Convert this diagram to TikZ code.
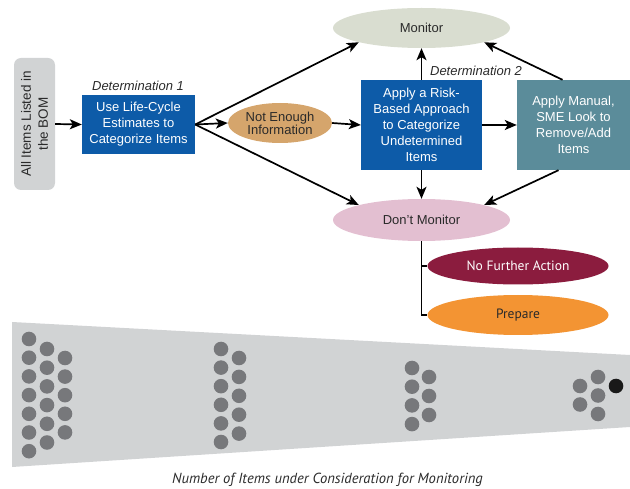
\documentclass[tikz,border=0pt]{standalone}
\usepackage{fontspec}
\setmainfont{Liberation Sans}
\newfontfamily\condfont{PT Sans}
\usetikzlibrary{shapes.geometric,arrows.meta,calc}
\definecolor{bomgray}{HTML}{D1D3D4}
\definecolor{boxblue}{HTML}{0D5BA8}
\definecolor{tealbox}{HTML}{5B8C9A}
\definecolor{tan}{HTML}{D5A56C}
\definecolor{mongreen}{HTML}{D9DDD0}
\definecolor{dontpink}{HTML}{E3BFD1}
\definecolor{maroon}{HTML}{8B1C3E}
\definecolor{orng}{HTML}{F39433}
\definecolor{funnel}{HTML}{D1D3D4}
\definecolor{dotc}{HTML}{77787B}
\definecolor{txtdark}{HTML}{2A2A2A}
\tikzset{
  boxtxt/.style={font=\fontsize{13}{16}\selectfont, align=center, inner sep=0pt, text=white},
  bluebox/.style={boxtxt, rectangle, fill=boxblue},
  ell/.style={ellipse, inner sep=0pt, align=center, font=\fontsize{13}{15}\selectfont},
  conn/.style={draw=black, line width=1.7pt, -{Stealth[length=12pt,width=10pt,inset=3pt]}},
  plain/.style={draw=black, line width=1.4pt},
  detlabel/.style={font=\fontsize{13}{15}\selectfont\itshape, text=txtdark, inner sep=0pt},
  dot/.style={fill=dotc}
}
\begin{document}
\begin{tikzpicture}[x=1pt,y=-1pt]
\useasboundingbox (0,0) rectangle (630,489);
% funnel
\fill[funnel] (12,322) -- (630,355) -- (630,427) -- (12,467) -- cycle;
% dots
\foreach \k in {0,...,6} \fill[dot] (29,339+\k*18.7) circle[radius=7.3pt];
\foreach \k in {0,...,5} \fill[dot] (47,349+\k*18.7) circle[radius=7.3pt];
\foreach \k in {0,...,4} \fill[dot] (65,358+\k*18.6) circle[radius=7.3pt];
\foreach \k in {0,...,5} \fill[dot] (221,349+\k*18.6) circle[radius=7.3pt];
\foreach \k in {0,...,4} \fill[dot] (239,358+\k*18.9) circle[radius=7.3pt];
\foreach \k in {0,...,3} \fill[dot] (412,368+\k*18.7) circle[radius=7.3pt];
\foreach \k in {0,...,2} \fill[dot] (429,377+\k*19) circle[radius=7.3pt];
\foreach \k in {0,1} \fill[dot] (580,386+\k*18.5) circle[radius=7.3pt];
\foreach \k in {0,...,2} \fill[dot] (598,377+\k*18.5) circle[radius=7.3pt];
\fill[black!90] (616,386) circle[radius=7.3pt];
\node[font=\condfont\fontsize{14.6}{16}\selectfont\itshape, text=txtdark, inner sep=0pt] (cap) at (327.5,480) {Number of Items under Consideration for Monitoring};

% nodes
\node[rectangle, rounded corners=7pt, fill=bomgray, minimum width=41pt, minimum height=132pt, inner sep=0pt] (bom) at (34.5,124) {};
\node[rotate=90, font=\fontsize{13.5}{17}\selectfont, align=center, text=txtdark, inner sep=0pt] (bomtxt) at (bom.center) {All Items Listed in\\the BOM};
\node[bluebox, minimum width=113pt, minimum height=59pt] (b1) at (138.5,124.5) {Use Life-Cycle\\Estimates to\\Categorize Items};
\node[detlabel] (d1) at (138,86) {Determination 1};
\node[ell, fill=tan, minimum width=104pt, minimum height=40pt, text=txtdark] (ne) at (280,123) {Not Enough\\[-2pt]Information};
\node[bluebox, minimum width=121pt, minimum height=90pt] (risk) at (421.5,125) {Apply a Risk-\\Based Approach\\to Categorize\\Undetermined\\Items};
\node[detlabel] (d2) at (476,71) {Determination 2};
\node[boxtxt, rectangle, fill=tealbox, minimum width=113pt, minimum height=90pt] (sme) at (573.5,125) {Apply Manual,\\SME Look to\\Remove/Add\\Items};
\node[ell, fill=mongreen, minimum width=177pt, minimum height=40pt, text=txtdark] (mon) at (421.5,28) {Monitor};
\node[ell, fill=dontpink, minimum width=177pt, minimum height=42pt, text=txtdark] (dont) at (421.5,220) {Don't Monitor};
\node[ell, fill=maroon, minimum width=181pt, minimum height=37pt, text=white, font=\condfont\fontsize{13.5}{15}\selectfont] (nfa) at (518,266) {No Further Action};
\node[ell, fill=orng, minimum width=181pt, minimum height=40pt, text=txtdark, font=\condfont\fontsize{13.5}{15}\selectfont] (prep) at (518,315) {Prepare};

% connectors
\draw[conn] (bom.east) -- (b1.west);
\draw[conn] (b1.east) -- (ne.west);
\draw[conn] (b1.east) -- (mon.south west);
\draw[conn] (b1.east) -- (dont.north west);
\draw[conn] (ne.east) -- (risk.west);
\draw[conn] (risk.north) -- (mon.south);
\draw[conn] (risk.south) -- (dont.north);
\draw[conn] (risk.east) -- (sme.west);
\draw[conn] ($(sme.north)+(-11,0)$) -- (mon.south east);
\draw[conn] ($(sme.south)+(-15,0)$) -- (dont.north east);
\coordinate (vt) at (dont.south);
\draw[plain] (vt) |- (nfa.west);
\draw[plain] (vt) |- (prep.west);
\end{tikzpicture}
\end{document}
